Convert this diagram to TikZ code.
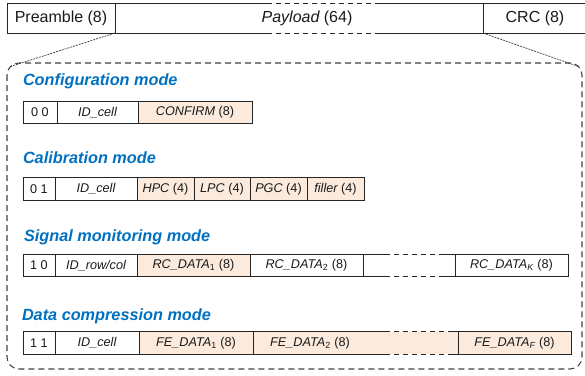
\documentclass[tikz,border=0pt]{standalone}
\usepackage{fontspec}
\setmainfont{Liberation Sans}
\usetikzlibrary{positioning,calc}
\definecolor{peach}{RGB}{252,235,221}
\definecolor{modeblue}{RGB}{0,112,192}

% top and bottom edge of a cell drawn solid - dashed - solid
\newcommand\brokenedges[3]{%
  \foreach \side in {north,south}{%
    \draw[edgeline] (#1.\side\space west) -- ($(#1.\side\space west)+(#2,0)$);
    \draw[edgedash] ($(#1.\side\space west)+(#2,0)$) -- ($(#1.\side\space east)+(-#3,0)$);
    \draw[edgeline] ($(#1.\side\space east)+(-#3,0)$) -- (#1.\side\space east);
  }%
}

\begin{document}
\begin{tikzpicture}[x=0.75pt,y=-0.75pt,
  every node/.style={inner sep=0pt, outer sep=0pt},
  bar/.style={line width=0.75pt, minimum height=29.5*0.75pt,
    font=\fontsize{12}{14}\selectfont, text=black!90},
  barbox/.style={bar, draw=black!85},
  cell/.style={line width=0.75pt, minimum height=22.5*0.75pt,
    font=\fontsize{9.5}{11}\selectfont, text=black!90},
  cellbox/.style={cell, draw=black!85},
  w/.style={minimum width=#1*0.75pt},
  hl/.style={fill=peach},
  title/.style={anchor=west, text=modeblue,
    font=\fontsize{12.2}{14}\selectfont\bfseries\itshape},
  frame/.style={draw=black!75, line width=0.8pt,
    dash pattern=on 4.5pt off 3pt, rounded corners=9pt},
  zoomline/.style={draw=black!80, line width=0.5pt,
    dash pattern=on 1.5pt off 0.75pt},
  edgeline/.style={draw=black!85, line width=0.75pt},
  edgedash/.style={draw=black!85, line width=0.75pt,
    dash pattern=on 3.75pt off 3pt},
]
\useasboundingbox (0,0) rectangle (585,375);

% packet: preamble, payload, CRC
\node[barbox, w=108, anchor=west] (pre) at (7,18.25) {Preamble (8)};
\node[bar, w=368, right=0pt of pre] (pay) {\hspace*{12pt}{\itshape Payload} (64)};
\node[barbox, w=104, right=0pt of pay] (crc) {CRC (8)};
\brokenedges{pay}{152}{103}

% expanded payload frame
\draw[frame] (7,63) rectangle (582,369);
\coordinate (fl) at (10.5,66.5);
\coordinate (fr) at (578.5,66.5);
\draw[zoomline] (pre.south east) -- (fl);
\draw[zoomline] (crc.south west) -- (fr);

% configuration mode
\node[title] (t1) at (23,81) {Configuration mode};
\node[cellbox, w=34, anchor=west] (a1) at (23,112.5) {0 0};
\node[cellbox, w=81, right=0pt of a1] (a2) {\itshape ID\_cell};
\node[cellbox, hl, w=114, right=0pt of a2] (a3) {{\itshape CONFIRM} (8)};

% calibration mode
\node[title] (t2) at (23,158) {Calibration mode};
\node[cellbox, w=32, anchor=west] (b1) at (23,189) {0 1};
\node[cellbox, w=82, right=0pt of b1] (b2) {\itshape ID\_cell};
\node[cellbox, hl, w=57, right=0pt of b2] (b3) {{\itshape HPC} (4)};
\node[cellbox, hl, w=56, right=0pt of b3] (b4) {{\itshape LPC} (4)};
\node[cellbox, hl, w=57, right=0pt of b4] (b5) {{\itshape PGC} (4)};
\node[cellbox, hl, w=57, right=0pt of b5] (b6) {{\itshape filler} (4)};

% signal monitoring mode
\node[title] (t3) at (24,237) {Signal monitoring mode};
\node[cellbox, w=32, anchor=west] (c1) at (23,265.5) {1 0};
\node[cellbox, w=82, right=0pt of c1] (c2) {\itshape ID\_row/col};
\node[cellbox, hl, w=113, right=0pt of c2] (c3) {{\itshape RC\_DATA}\textsubscript{1} (8)};
\node[cellbox, w=113, right=0pt of c3] (c4) {{\itshape RC\_DATA}\textsubscript{2} (8)};
\node[cell, w=92, right=0pt of c4] (c5) {};
\node[cellbox, w=113, right=0pt of c5] (c6) {{\itshape RC\_DATA\textsubscript{K}} (8)};
\brokenedges{c5}{22}{15}

% data compression mode
\node[title] (t4) at (22,316) {Data compression mode};
\node[cellbox, w=32, anchor=west] (d1) at (23,343) {1 1};
\node[cellbox, w=84, right=0pt of d1] (d2) {\itshape ID\_cell};
\node[cellbox, hl, w=114, right=0pt of d2] (d3) {{\itshape FE\_DATA}\textsubscript{1} (8)};
\node[cellbox, hl, w=114, right=0pt of d3] (d4) {{\itshape FE\_DATA}\textsubscript{2} (8)};
\node[cell, hl, w=91, right=0pt of d4] (d5) {};
\node[cellbox, hl, w=113, right=0pt of d5] (d6) {{\itshape FE\_DATA\textsubscript{F}} (8)};
\brokenedges{d5}{18}{10}
\end{tikzpicture}
\end{document}
